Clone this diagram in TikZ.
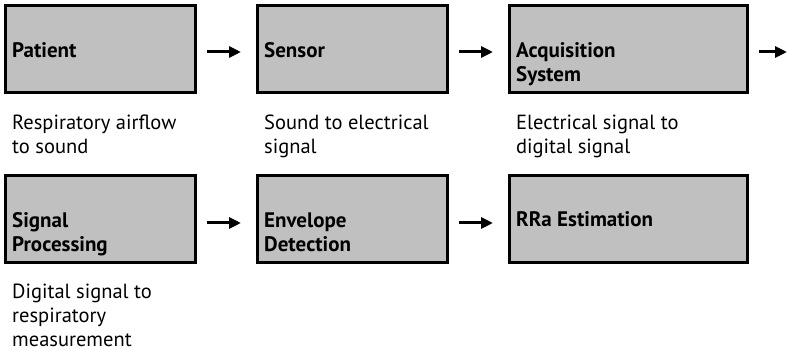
\documentclass[tikz,border=0pt]{standalone}
\usepackage{fontspec}
\setmainfont{PT Sans}
\usetikzlibrary{arrows.meta}
\tikzset{
  box/.style={draw=black, line width=3pt, fill=boxgray, minimum height=87pt, inner sep=0pt},
  boxlabel/.style={anchor=north west, inner sep=0pt, align=left, font=\fontsize{21}{24}\selectfont\bfseries},
  desc/.style={anchor=north west, inner sep=0pt, align=left, font=\fontsize{20.5}{24}\selectfont},
  flow/.style={line width=3pt, -{Triangle[length=12pt,width=11pt]}},
}
\definecolor{boxgray}{HTML}{C0C0C0}
\newcommand{\topstrut}{\rule{0pt}{18pt}}
\begin{document}
\begin{tikzpicture}[x=1pt,y=1pt]
\useasboundingbox (0,0) rectangle (788,351);
% row 1 boxes
\node[box, minimum width=190pt] (b1) at (100.5,302) {};
\node[box, minimum width=190pt] (b2) at (352.5,302) {};
\node[box, minimum width=238pt] (b3) at (628.5,302) {};
% row 2 boxes
\node[box, minimum width=190pt] (b4) at (100.5,132) {};
\node[box, minimum width=190pt] (b5) at (352.5,132) {};
\node[box, minimum width=238pt] (b6) at (628.5,132) {};
% box labels
\node[boxlabel] (l1) at (12,312) {\topstrut Patient};
\node[boxlabel] (l2) at (264,312) {\topstrut Sensor};
\node[boxlabel] (l3) at (516,312) {\topstrut Acquisition\\System};
\node[boxlabel] (l4) at (12,142) {\topstrut Signal\\Processing};
\node[boxlabel] (l5) at (264,142) {\topstrut Envelope\\Detection};
\node[boxlabel] (l6) at (516,143) {\topstrut RRa Estimation};
% descriptions
\node[desc] (d1) at (12,240) {\topstrut Respiratory airflow\\to sound};
\node[desc] (d2) at (264,240) {\topstrut Sound to electrical\\signal};
\node[desc] (d3) at (516,240) {\topstrut Electrical signal to\\digital signal};
\node[desc] (d4) at (12,71) {\topstrut Digital signal to\\respiratory\\measurement};
% connectors
\coordinate (out) at (788,299);
\draw[flow, shorten <=10pt, shorten >=15pt] ([yshift=-3pt]b1.east) -- ([yshift=-3pt]b2.west);
\draw[flow, shorten <=10pt, shorten >=15pt] ([yshift=-3pt]b2.east) -- ([yshift=-3pt]b3.west);
\draw[flow, shorten <=10pt, shorten >=1pt] ([yshift=-3pt]b3.east) -- (out);
\draw[flow, shorten <=10pt, shorten >=15pt] ([yshift=-4pt]b4.east) -- ([yshift=-4pt]b5.west);
\draw[flow, shorten <=10pt, shorten >=15pt] ([yshift=-4pt]b5.east) -- ([yshift=-4pt]b6.west);
\end{tikzpicture}
\end{document}
